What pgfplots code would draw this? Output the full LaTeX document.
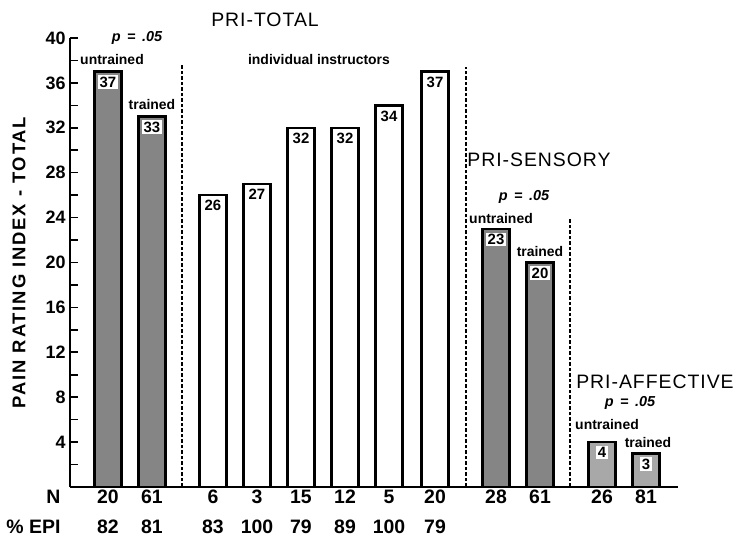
\documentclass[border=0pt]{standalone}
\usepackage{fontspec}
\setmainfont{Liberation Sans}
\usepackage{pgfplots}
\pgfplotsset{compat=1.18}
\definecolor{stipA}{HTML}{858585}
\definecolor{stipB}{HTML}{A8A8A8}
\newcommand{\fs}[1]{\fontsize{#1}{#1}\selectfont}
\tikzset{nlab/.style={font=\fs{19.5}\bfseries},
 ttl/.style={font=\fs{19.5}\addfontfeature{LetterSpace=5}},
 sml/.style={font=\fs{14}\bfseries},
 pv/.style={font=\fs{14.5}\bfseries\itshape}}
\begin{document}
\begin{tikzpicture}
\begin{axis}[
 scale only axis, width=608bp, height=449bp,
 xmin=70, xmax=678, ymin=0, ymax=40,
 axis lines=left, axis line style={-, line width=2.5bp},
 xtick=\empty,
 ytick={4,8,...,40},
 minor ytick={2,6,...,38},
 tick style={black, line width=1.6bp},
 major tick length=8bp, minor tick length=8bp,
 tick align=inside,
 /pgf/number format/assume math mode=true,
 yticklabel style={font=\fs{18}\bfseries, xshift=-1bp},
 clip=false,
 ybar, bar width=27, bar shift=0pt,
 nodes near coords,
 point meta=y,
 every node near coord/.append style={anchor=north, yshift=-2.5bp, fill=white, inner sep=1.5bp, font=\fs{15}\bfseries, text=black},
]
\addplot[fill=stipA, draw=black, line width=2.5bp] coordinates {(108,37) (152,33)};
\addplot[fill=white, draw=black, line width=2.5bp] coordinates {(213,26) (257,27) (301,32) (345,32) (389,34) (435,37)};
\addplot[fill=stipA, draw=black, line width=2.5bp] coordinates {(496,23) (540,20)};
\addplot[fill=stipB, draw=black, line width=2.5bp] coordinates {(602,4) (646,3)};

\draw[line width=1.6bp, dash pattern=on 3.5bp off 2bp] (axis cs:182,0) -- (axis cs:182,37.6);
\draw[line width=1.6bp, dash pattern=on 3.5bp off 2bp] (axis cs:466,0) -- (axis cs:466,37.4);
\draw[line width=1.6bp, dash pattern=on 3.5bp off 2bp] (axis cs:570,0) -- (axis cs:570,24.0);

\node[ttl] at (axis cs:265,41.6) {PRI-TOTAL};
\node[pv] at (axis cs:137,40.0) {p\hspace{0.45em}=\hspace{0.45em}.05};
\node[sml] at (axis cs:112,38.04) {untrained};
\node[sml] at (axis cs:152,34.03) {trained};
\node[sml] at (axis cs:319,38.04) {individual instructors};

\node[ttl] at (axis cs:539,29.13) {PRI-SENSORY};
\node[pv] at (axis cs:524,25.84) {p\hspace{0.45em}=\hspace{0.45em}.05};
\node[sml] at (axis cs:501,23.96) {untrained};
\node[sml] at (axis cs:540,20.94) {trained};

\node[ttl] at (axis cs:655,9.35) {PRI-AFFECTIVE};
\node[pv] at (axis cs:630,7.48) {p\hspace{0.45em}=\hspace{0.45em}.05};
\node[sml] at (axis cs:607,5.61) {untrained};
\node[sml] at (axis cs:648,3.92) {trained};

\node[font=\fs{18.5}\bfseries\addfontfeature{LetterSpace=10}, rotate=90] at (axis cs:19,20.0) {PAIN RATING INDEX - TOTAL};

\node[nlab, anchor=east] at (axis cs:64,-0.85) {N};
\node[nlab, anchor=east] at (axis cs:64,-3.52) {\% EPI};
\node[nlab] at (axis cs:108,-0.85) {20};
\node[nlab] at (axis cs:152,-0.85) {61};
\node[nlab] at (axis cs:213,-0.85) {6};
\node[nlab] at (axis cs:257,-0.85) {3};
\node[nlab] at (axis cs:301,-0.85) {15};
\node[nlab] at (axis cs:345,-0.85) {12};
\node[nlab] at (axis cs:389,-0.85) {5};
\node[nlab] at (axis cs:435,-0.85) {20};
\node[nlab] at (axis cs:496,-0.85) {28};
\node[nlab] at (axis cs:540,-0.85) {61};
\node[nlab] at (axis cs:602,-0.85) {26};
\node[nlab] at (axis cs:646,-0.85) {81};
\node[nlab] at (axis cs:108,-3.52) {82};
\node[nlab] at (axis cs:152,-3.52) {81};
\node[nlab] at (axis cs:213,-3.52) {83};
\node[nlab] at (axis cs:257,-3.52) {100};
\node[nlab] at (axis cs:301,-3.52) {79};
\node[nlab] at (axis cs:345,-3.52) {89};
\node[nlab] at (axis cs:389,-3.52) {100};
\node[nlab] at (axis cs:435,-3.52) {79};

\coordinate (bl) at (axis cs:0,-4.81);
\coordinate (tr) at (axis cs:736,43.385);
\end{axis}
\pgfresetboundingbox
\path[use as bounding box] (bl) rectangle (tr);
\end{tikzpicture}
\end{document}
